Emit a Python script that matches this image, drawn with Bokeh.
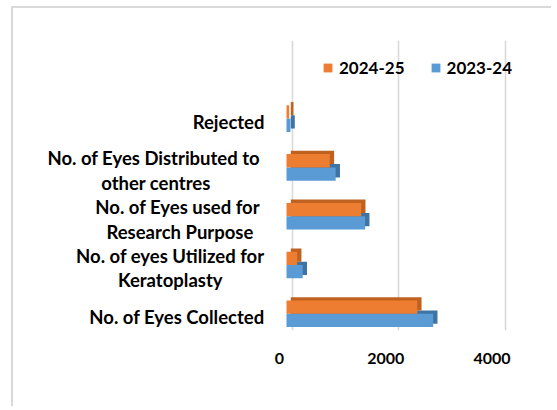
from bokeh.plotting import figure
from bokeh.models import (ColumnDataSource, Range1d, LinearAxis, Grid, FixedTicker,
                          Legend, LegendItem)
from bokeh.core.properties import value
from bokeh.transform import dodge
from bokeh.embed import file_html
from bokeh.resources import INLINE

# ---------------- data ----------------
categories = [
    "No. of Eyes Collected",
    "No. of eyes Utilized for\nKeratoplasty",
    "No. of Eyes  used for\nResearch Purpose",
    "No. of Eyes  Distributed to\nother centres",
    "Rejected",
]
eyes_2023_24 = [2760, 305, 1480, 925, 75]
eyes_2024_25 = [2460, 200, 1405, 815, 50]
series_names = ["2024-25", "2023-24"]
x_ticks = [0, 2000, 4000]

# ---------------- style / layout ----------------
FONT = "Lato"
ORANGE, ORANGE_DK = "#ED7D31", "#C0621F"
BLUE, BLUE_DK = "#5B9BD5", "#3F73A3"
GRID = "#d9d9d9"

W, H = 540, 400
FL, FR, FT, FB = 5, 527, 32, 322            # frame edges (canvas px)
ZERO_BAR, ZERO_FRONT, ZERO_BACK = 268, 261, 274   # px from frame left
PX_PER_UNIT = 106.3 / 2000.0                # x scale
CAT_PX = 48.8                               # px per category
CAT0_ABOVE_BOTTOM = 16.7                    # first category centre above frame bottom
fw, fh = FR - FL, FB - FT
upx = 1.0 / PX_PER_UNIT


def xr(zero_px):
    s = -zero_px * upx
    return Range1d(s, s + fw * upx)


def yr(shift_px):
    s = (-CAT0_ABOVE_BOTTOM + shift_px) / CAT_PX
    return Range1d(s, s + fh / CAT_PX)


DEPTH_X, DEPTH_Y = 4.3, 3.3
BAR_H = 0.273
HALF = 0.136

p = figure(width=W, height=H, x_range=xr(ZERO_BAR), y_range=yr(0),
           output_backend="svg", toolbar_location=None,
           x_axis_location=None, y_axis_location=None,
           min_border_left=FL, min_border_right=W - FR,
           min_border_top=FT, min_border_bottom=H - FB)
p.grid.visible = False
p.outline_line_color = None
p.background_fill_color = "white"
p.border_fill_color = "white"
p.styles = {"border-left": "2px solid #d9d9d9", "border-top": "2px solid #d9d9d9",
            "margin-left": "11px", "margin-top": "6px"}

p.extra_x_ranges = {"front": xr(ZERO_FRONT), "back": xr(ZERO_BACK),
                    "shadow": xr(ZERO_BAR + DEPTH_X)}
p.extra_y_ranges = {"shadow": yr(-DEPTH_Y), "lab": yr(3)}

src = ColumnDataSource(dict(idx=list(range(len(categories))), label=categories,
                            a=eyes_2023_24, b=eyes_2024_25))

grid = Grid(dimension=0, ticker=FixedTicker(ticks=x_ticks), x_range_name="back",
            grid_line_color=GRID, grid_line_width=1.6)
p.add_layout(grid)

# 2023-24 (lower bar)
p.hbar(y=dodge("idx", -HALF, range=p.y_range), right="a", left=0, height=BAR_H,
       source=src, fill_color=BLUE_DK, line_color=None,
       x_range_name="shadow", y_range_name="shadow")
r_blue = p.hbar(y=dodge("idx", -HALF, range=p.y_range), right="a", left=0, height=BAR_H,
                source=src, fill_color=BLUE, line_color=None)
# 2024-25 (upper bar)
p.hbar(y=dodge("idx", HALF, range=p.y_range), right="b", left=0, height=BAR_H,
       source=src, fill_color=ORANGE_DK, line_color=None,
       x_range_name="shadow", y_range_name="shadow")
r_orange = p.hbar(y=dodge("idx", HALF, range=p.y_range), right="b", left=0, height=BAR_H,
                  source=src, fill_color=ORANGE, line_color=None)

# category labels (right-aligned block, centred lines)
p.text(x=0, y="idx", text="label", source=src, x_range_name="front", y_range_name="lab",
       x_offset=-15, anchor=value("center_right"), text_align="center",
       text_baseline="middle", text_font=value(FONT), text_font_style="bold",
       text_font_size="18.5px", text_line_height=1.13, text_color="black")

xaxis = LinearAxis(x_range_name="front", ticker=FixedTicker(ticks=x_ticks),
                   axis_line_color=None, major_tick_line_color=None,
                   minor_tick_line_color=None, major_tick_in=0, major_tick_out=0,
                   major_label_standoff=22,
                   major_label_text_font=FONT, major_label_text_font_style="bold",
                   major_label_text_font_size="16px", major_label_text_color="black")
p.add_layout(xaxis, "below")

legend = Legend(items=[LegendItem(label=series_names[0], renderers=[r_orange]),
                       LegendItem(label=series_names[1], renderers=[r_blue])],
                orientation="horizontal", location=(304, 252.5),
                glyph_width=11, glyph_height=11, label_standoff=6, spacing=25,
                padding=0, margin=0, border_line_color=None,
                background_fill_alpha=0,
                label_text_font=FONT, label_text_font_style="bold",
                label_text_font_size="17px", label_text_color="black")
p.add_layout(legend)

open("out.html", "w").write(file_html(p, INLINE))
